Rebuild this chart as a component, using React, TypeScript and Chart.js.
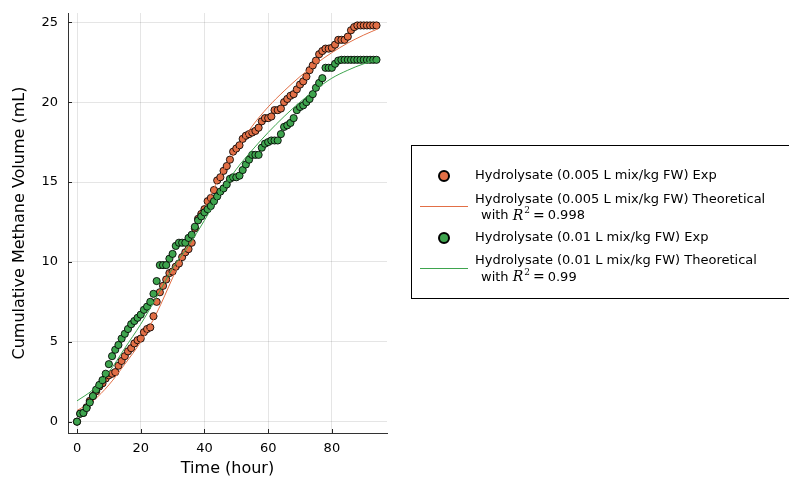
import React, { useEffect, useRef } from "react";
import { Chart, registerables } from "chart.js";
Chart.register(...registerables);

const hours = [
  0, 1, 2, 3, 4, 5, 6, 7, 8, 9, 10, 11, 12, 13, 14, 15, 16, 17, 18, 19,
  20, 21, 22, 23, 24, 25, 26, 27, 28, 29, 30, 31, 32, 33, 34, 35, 36, 37, 38, 39,
  40, 41, 42, 43, 44, 45, 46, 47, 48, 49, 50, 51, 52, 53, 54, 55, 56, 57, 58, 59,
  60, 61, 62, 63, 64, 65, 66, 67, 68, 69, 70, 71, 72, 73, 74, 75, 76, 77, 78, 79,
  80, 81, 82, 83, 84, 85, 86, 87, 88, 89, 90, 91, 92, 93, 94,
];

const expLow = [
  0, 0.5, 0.55, 0.9, 1.3, 1.6, 1.9, 2.2, 2.4, 2.7, 2.9, 3.0, 3.1, 3.5, 3.8, 4.1, 4.4, 4.6, 4.9, 5.1,
  5.2, 5.6, 5.8, 5.9, 6.6, 7.5, 8.1, 8.5, 8.9, 9.3, 9.4, 9.7, 9.9, 10.3, 10.6, 10.8, 11.2, 12.1, 12.7, 13.0,
  13.3, 13.8, 14.0, 14.5, 15.1, 15.3, 15.7, 16.0, 16.4, 16.9, 17.1, 17.3, 17.7, 17.9, 18.0, 18.1, 18.2, 18.4, 18.8, 19.0,
  19.0, 19.1, 19.5, 19.5, 19.6, 20.0, 20.2, 20.4, 20.5, 20.8, 21.1, 21.3, 21.6, 22.0, 22.3, 22.6, 23.0, 23.2, 23.35, 23.35,
  23.4, 23.6, 23.9, 23.9, 23.9, 24.1, 24.5, 24.7, 24.8, 24.8, 24.8, 24.8, 24.8, 24.8, 24.8,
];

const expHigh = [
  0, 0.5, 0.55, 0.85, 1.2, 1.6, 2.0, 2.3, 2.6, 3.0, 3.6, 4.1, 4.5, 4.8, 5.2, 5.5, 5.8, 6.1, 6.3, 6.5,
  6.7, 7.0, 7.2, 7.5, 8.0, 8.8, 9.8, 9.8, 9.8, 10.2, 10.5, 11.0, 11.2, 11.2, 11.2, 11.5, 11.7, 12.2, 12.6, 12.85,
  13.1, 13.3, 13.5, 13.8, 14.1, 14.4, 14.6, 14.85, 15.2, 15.3, 15.3, 15.4, 15.75, 16.1, 16.4, 16.7, 16.7, 16.7, 17.15, 17.4,
  17.5, 17.6, 17.6, 17.6, 18.0, 18.45, 18.55, 18.7, 19.0, 19.5, 19.7, 19.8, 20.0, 20.2, 20.5, 20.9, 21.2, 21.5, 22.15, 22.15,
  22.15, 22.4, 22.6, 22.65, 22.65, 22.65, 22.65, 22.65, 22.65, 22.65, 22.65, 22.65, 22.65, 22.65, 22.65,
];

const fitHours = [0, 5, 10, 15, 20, 25, 30, 35, 40, 45, 50, 55, 60, 65, 70, 75, 80, 85, 90, 94.6];
const fitLow = [0.7, 1.3, 2.3, 3.6, 5.0, 6.8, 9.0, 11.2, 13.4, 15.4, 17.0, 18.5, 19.7, 20.7, 21.6, 22.4, 23.1, 23.7, 24.2, 24.6];
const fitHigh = [1.3, 2.0, 3.1, 4.6, 6.1, 7.8, 9.6, 11.0, 12.6, 14.3, 15.8, 17.0, 18.1, 19.1, 20.0, 20.8, 21.5, 22.0, 22.4, 22.65];

const xTicks = [0, 20, 40, 60, 80];
const yTicks = [0, 5, 10, 15, 20, 25];

const labelExpLow = "Hydrolysate (0.005 L mix/kg FW) Exp";
const labelFitLow = "Hydrolysate (0.005 L mix/kg FW) Theoretical";
const r2Low = "0.998";
const labelExpHigh = "Hydrolysate (0.01 L mix/kg FW) Exp";
const labelFitHigh = "Hydrolysate (0.01 L mix/kg FW) Theoretical";
const r2High = "0.99";

const ORANGE = "#E26F46";
const GREEN = "#3EA44E";
const FONT = "'DejaVu Sans', sans-serif";

export default function App() {
  const ref = useRef<HTMLCanvasElement | null>(null);
  useEffect(() => {
    const canvas = ref.current!;
    const pts = (xs: number[], ys: number[]) => xs.map((x, i) => ({ x, y: ys[i] }));

    const axisTicks = {
      id: "axisTicks",
      afterDatasetsDraw(chart: any) {
        const { ctx, chartArea, scales } = chart;
        ctx.save();
        ctx.strokeStyle = "#222";
        ctx.lineWidth = 1;
        xTicks.forEach((t) => {
          const x = Math.round(scales.x.getPixelForValue(t)) + 0.5;
          ctx.beginPath();
          ctx.moveTo(x, chartArea.bottom);
          ctx.lineTo(x, chartArea.bottom - 4);
          ctx.stroke();
        });
        yTicks.forEach((t) => {
          const y = Math.round(scales.y.getPixelForValue(t)) + 0.5;
          ctx.beginPath();
          ctx.moveTo(chartArea.left, y);
          ctx.lineTo(chartArea.left + 4, y);
          ctx.stroke();
        });
        ctx.restore();
      },
    };

    const legendPlugin = {
      id: "customLegend",
      afterDraw(chart: any) {
        const ctx = chart.ctx as CanvasRenderingContext2D;
        ctx.save();
        ctx.fillStyle = "#fff";
        ctx.fillRect(411, 145, 400, 153);
        ctx.strokeStyle = "#000";
        ctx.lineWidth = 1;
        ctx.strokeRect(411.5, 145.5, 400, 153);

        const textX = 475;
        ctx.font = `13px ${FONT}`;
        ctx.textBaseline = "middle";
        ctx.fillStyle = "#000";

        const marker = (y: number, color: string) => {
          ctx.beginPath();
          ctx.arc(444, y, 5, 0, Math.PI * 2);
          ctx.fillStyle = color;
          ctx.fill();
          ctx.lineWidth = 2;
          ctx.strokeStyle = "#000";
          ctx.stroke();
          ctx.fillStyle = "#000";
        };
        const line = (y: number, color: string) => {
          ctx.beginPath();
          ctx.moveTo(420, y + 0.5);
          ctx.lineTo(468, y + 0.5);
          ctx.strokeStyle = color;
          ctx.lineWidth = 1;
          ctx.stroke();
        };
        const r2line = (y: number, val: string) => {
          let x = 481;
          ctx.font = `13px ${FONT}`;
          ctx.fillStyle = "#000";
          ctx.fillText("with ", x, y);
          x += ctx.measureText("with ").width;
          ctx.font = `italic 14px 'DejaVu Serif', serif`;
          ctx.fillText("R", x, y);
          x += ctx.measureText("R").width + 1;
          ctx.font = `9px 'DejaVu Serif', serif`;
          ctx.fillText("2", x, y - 5);
          x += ctx.measureText("2").width + 3;
          ctx.font = `14px 'DejaVu Serif', serif`;
          ctx.fillText("=", x, y);
          x += ctx.measureText("=").width + 3;
          ctx.font = `13px ${FONT}`;
          ctx.fillText(val, x, y);
        };

        marker(176, ORANGE);
        ctx.font = `13px ${FONT}`;
        ctx.fillText(labelExpLow, textX, 176);
        line(206, ORANGE);
        ctx.fillStyle = "#000";
        ctx.fillText(labelFitLow, textX, 199.5);
        r2line(216, r2Low);
        marker(238, GREEN);
        ctx.font = `13px ${FONT}`;
        ctx.fillText(labelExpHigh, textX, 238);
        line(268, GREEN);
        ctx.fillStyle = "#000";
        ctx.fillText(labelFitHigh, textX, 261);
        r2line(277.5, r2High);
        ctx.restore();
      },
    };

    const chart = new Chart(canvas, {
      type: "scatter",
      data: {
        datasets: [
          {
            label: labelExpLow,
            data: pts(hours, expLow),
            backgroundColor: ORANGE,
            borderColor: "rgba(0,0,0,0.85)",
            borderWidth: 1,
            pointRadius: 3.6,
            order: 4,
          },
          {
            label: labelFitLow,
            type: "line",
            data: pts(fitHours, fitLow),
            borderColor: ORANGE,
            borderWidth: 1,
            pointRadius: 0,
            fill: false,
            cubicInterpolationMode: "monotone",
            order: 3,
          } as any,
          {
            label: labelExpHigh,
            data: pts(hours, expHigh),
            backgroundColor: GREEN,
            borderColor: "rgba(0,0,0,0.85)",
            borderWidth: 1,
            pointRadius: 3.6,
            order: 2,
          },
          {
            label: labelFitHigh,
            type: "line",
            data: pts(fitHours, fitHigh),
            borderColor: GREEN,
            borderWidth: 1,
            pointRadius: 0,
            fill: false,
            cubicInterpolationMode: "monotone",
            order: 1,
          } as any,
        ],
      },
      options: {
        responsive: false,
        animation: false,
        devicePixelRatio: 1,
        layout: { padding: { left: 0, top: 13, right: 402, bottom: 0 } },
        plugins: { legend: { display: false }, tooltip: { enabled: false } },
        scales: {
          x: {
            type: "linear",
            min: -2.83,
            max: 97.3,
            afterFit: (s: any) => { s.height = 45; s.paddingLeft = 0; s.paddingRight = 0; },
            afterBuildTicks: (s: any) => { s.ticks = xTicks.map((v) => ({ value: v })); },
            ticks: { color: "#000", font: { family: FONT, size: 13 }, padding: 8 },
            grid: { color: "rgba(0,0,0,0.1)", drawTicks: false },
            border: { display: true, color: "#333", width: 1 },
            title: {
              display: true,
              text: "Time (hour)",
              color: "#000",
              font: { family: FONT, size: 16 },
              padding: { top: 0, bottom: 0 },
            },
          },
          y: {
            type: "linear",
            min: -0.71,
            max: 25.58,
            afterFit: (s: any) => { s.width = 68; s.paddingTop = 0; s.paddingBottom = 0; },
            afterBuildTicks: (s: any) => { s.ticks = yTicks.map((v) => ({ value: v })); },
            ticks: { color: "#000", font: { family: FONT, size: 13 }, padding: 10 },
            grid: { color: "rgba(0,0,0,0.1)", drawTicks: false },
            border: { display: true, color: "#333", width: 1 },
            title: {
              display: true,
              text: "Cumulative Methane Volume (mL)",
              color: "#000",
              font: { family: FONT, size: 16 },
              padding: { top: 10, bottom: 0 },
            },
          },
        },
      },
      plugins: [axisTicks, legendPlugin],
    });
    return () => chart.destroy();
  }, []);

  return (
    <div style={{ position: "fixed", left: 0, top: 0, width: 789, height: 478, background: "#fff" }}>
      <canvas ref={ref} width={789} height={478} style={{ display: "block", width: 789, height: 478 }} />
    </div>
  );
}
